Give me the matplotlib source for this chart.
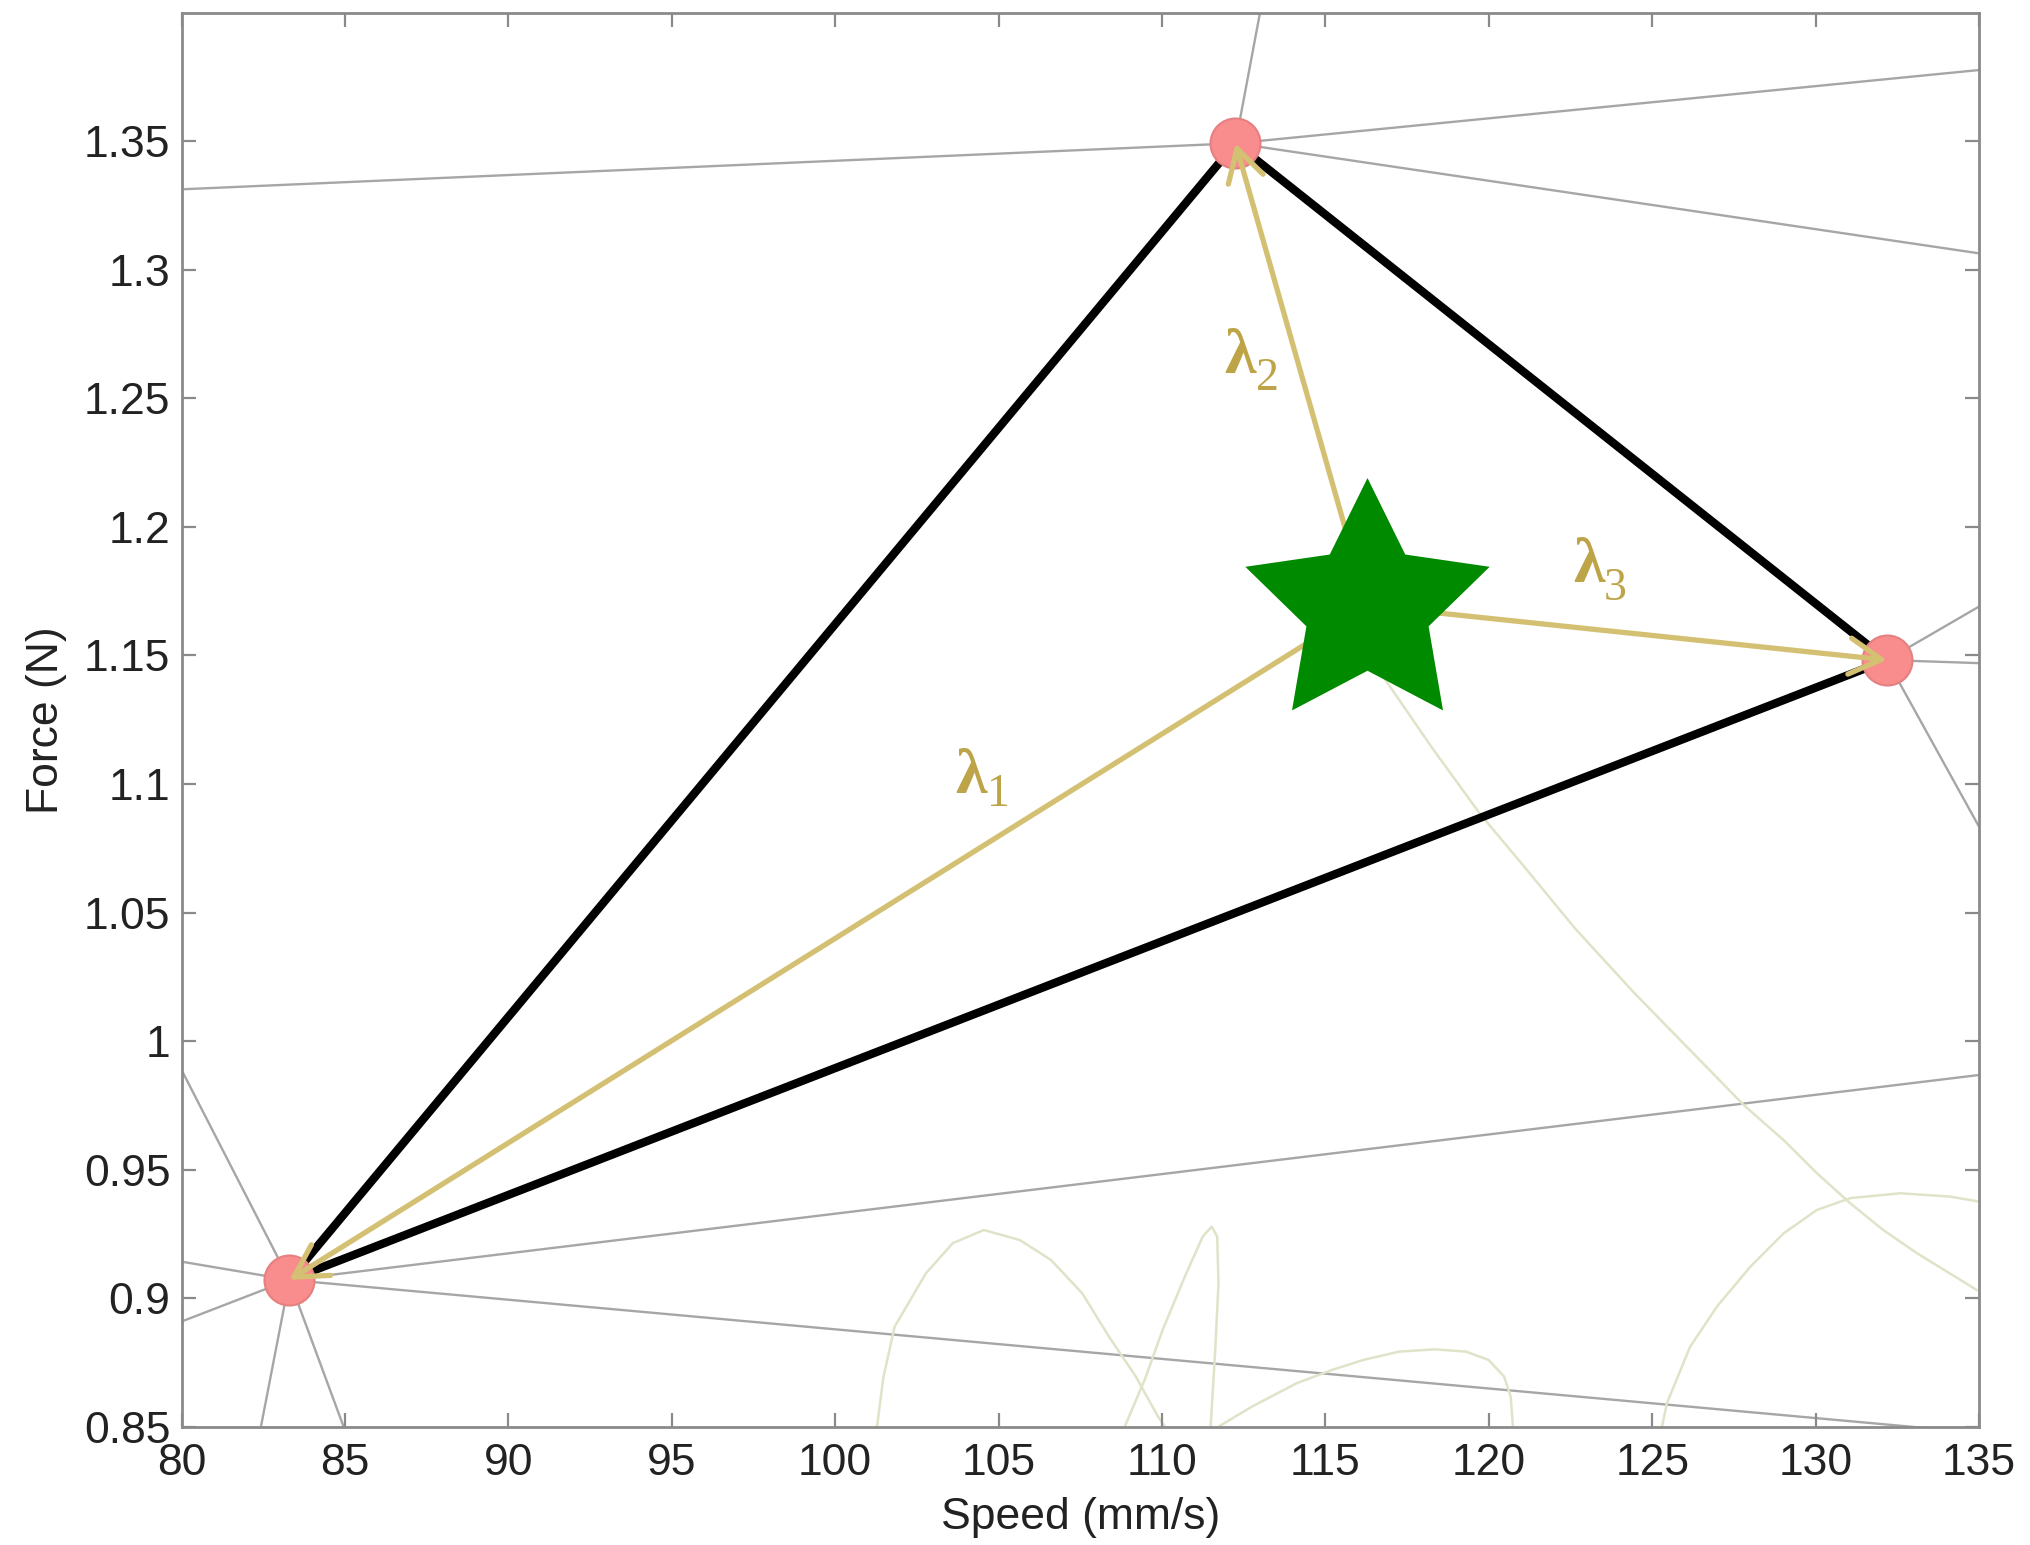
import matplotlib
matplotlib.use("Agg")
import matplotlib.pyplot as plt
from matplotlib.patches import FancyArrowPatch, ArrowStyle
from matplotlib.path import Path

# ---------------- data ----------------
xticks = [80, 85, 90, 95, 100, 105, 110, 115, 120, 125, 130, 135]
xtick_labels = ["80", "85", "90", "95", "100", "105", "110", "115", "120", "125", "130", "135"]
yticks = [0.85, 0.9, 0.95, 1.0, 1.05, 1.1, 1.15, 1.2, 1.25, 1.3, 1.35]
ytick_labels = ["0.85", "0.9", "0.95", "1", "1.05", "1.1", "1.15", "1.2", "1.25", "1.3", "1.35"]

# triangle vertices (Speed, Force)
vertex_x = [83.30, 112.25, 132.18]
vertex_y = [0.9071, 1.3492, 1.1482]

# target point (star)
star_x = [116.28]
star_y = [1.1694]

# thin gray lines (start -> end)
gray_x0 = [83.30, 83.30, 83.30, 83.30, 83.30, 83.30, 83.30,
           112.25, 112.25, 112.25, 112.25,
           132.18, 132.18, 132.18]
gray_y0 = [0.9071, 0.9071, 0.9071, 0.9071, 0.9071, 0.9071, 0.9071,
           1.3492, 1.3492, 1.3492, 1.3492,
           1.1482, 1.1482, 1.1482]
gray_x1 = [80.0, 80.0, 80.0, 82.43, 84.96, 135.0, 135.0,
           80.0, 113.0, 135.0, 135.0,
           135.0, 135.0, 135.0]
gray_y1 = [0.9888, 0.9142, 0.8909, 0.85, 0.85, 0.9868, 0.8476,
           1.3313, 1.40, 1.3777, 1.3064,
           1.1690, 1.1470, 1.0834]

# faint curves
curve1_x = [116.30, 116.83, 118.28, 119.73, 121.19, 122.64, 124.46,
            127.81, 129.02, 130.04, 131.06, 132.07, 133.10, 134.93]
curve1_y = [1.1600, 1.1406, 1.1138, 1.0884, 1.0662, 1.0438, 1.0186,
            0.9750, 0.9615, 0.9486, 0.9369, 0.9265, 0.9175, 0.9032]

curve2_x = [125.30, 125.45, 126.16, 126.98, 128.00, 129.02, 130.04, 131.06, 132.59, 134.11, 135.03]
curve2_y = [0.8500, 0.8591, 0.8811, 0.8967, 0.9122, 0.9252, 0.9343, 0.9389, 0.9408, 0.9395, 0.9375]

curve3_x = [101.28, 101.48, 101.82, 102.78, 103.60, 104.55, 105.65, 106.60, 107.56,
            108.38, 109.20, 109.88, 110.09]
curve3_y = [0.8500, 0.8695, 0.8889, 0.9097, 0.9214, 0.9265, 0.9226, 0.9149, 0.9019,
            0.8850, 0.8695, 0.8539, 0.8500]

curve4_x = [108.86, 109.47, 110.02, 110.70, 111.25, 111.52, 111.69, 111.73, 111.63, 111.49]
curve4_y = [0.8500, 0.8682, 0.8876, 0.9084, 0.9240, 0.9278, 0.9240, 0.9058, 0.8799, 0.8500]

curve5_x = [111.73, 112.75, 114.12, 115.21, 116.17, 117.26, 118.35, 119.30, 119.99,
            120.47, 120.67, 120.74]
curve5_y = [0.8500, 0.8578, 0.8669, 0.8721, 0.8760, 0.8792, 0.8801, 0.8792, 0.8760,
            0.8695, 0.8617, 0.8500]

# lambda labels: symbol position (left, baseline) and subscript position
label_digits = ["1", "2", "3"]
label_sym_x = [103.66, 111.92, 122.58]
label_sym_y = [1.0966, 1.2599, 1.1787]
label_sub_x = [104.65, 112.87, 123.53]
label_sub_y = [1.0916, 1.2533, 1.1716]

# ---------------- figure ----------------
fig = plt.figure(figsize=(20.31, 15.45), dpi=100)
ax = fig.add_axes([0.08937, 0.07657, 0.88503, 0.91521])
ax.set_xlim(80, 135)
ax.set_ylim(0.85, 1.40)

gray = "#a6a6a6"
for x0, y0, x1, y1 in zip(gray_x0, gray_y0, gray_x1, gray_y1):
    ax.plot([x0, x1], [y0, y1], color=gray, lw=1.7, zorder=1, solid_capstyle="butt")

pale = "#e0e3c8"
for cx, cy in [(curve1_x, curve1_y), (curve2_x, curve2_y), (curve3_x, curve3_y),
               (curve4_x, curve4_y), (curve5_x, curve5_y)]:
    ax.plot(cx, cy, color=pale, lw=1.8, zorder=1.5, solid_joinstyle="round")

# black triangle
tri_x = vertex_x + [vertex_x[0]]
tri_y = vertex_y + [vertex_y[0]]
ax.plot(tri_x, tri_y, color="black", lw=6.0, zorder=3, solid_joinstyle="round")

# vertex circles
ax.plot(vertex_x, vertex_y, linestyle="none", marker="o", ms=36,
        mfc="#f98c8c", mec="#e58080", mew=1.5, zorder=4)

# arrows from star to vertices
arrow_color = "#d4c072"
for vx, vy in zip(vertex_x, vertex_y):
    arr = FancyArrowPatch((star_x[0], star_y[0]), (vx, vy),
                          arrowstyle=ArrowStyle("->", head_length=23, head_width=13),
                          mutation_scale=1, lw=3.8, color=arrow_color,
                          shrinkA=0, shrinkB=0, zorder=5)
    ax.add_patch(arr)

# star (fat five-pointed star)
star_path = Path.unit_regular_star(5, innerCircle=0.5)
ax.plot(star_x, star_y, linestyle="none", marker=star_path, ms=185,
        color="#008a00", mew=0, zorder=6)

# lambda labels
label_color = "#bea448"
for d, sx, sy, bx, by in zip(label_digits, label_sym_x, label_sym_y, label_sub_x, label_sub_y):
    ax.text(sx, sy, "λ", family="Liberation Serif", fontweight="bold", fontsize=46,
            color=label_color, ha="left", va="baseline", zorder=7)
    ax.text(bx, by, d, family="Liberation Serif", fontsize=33,
            color=label_color, ha="left", va="baseline", zorder=7)

# axes styling (MATLAB-like box)
spine_color = "#8a8a8a"
for s in ax.spines.values():
    s.set_color(spine_color)
    s.set_linewidth(2.0)

ax.set_xticks(xticks)
ax.set_xticklabels(xtick_labels)
ax.set_yticks(yticks)
ax.set_yticklabels(ytick_labels)
ax.tick_params(axis="both", which="major", direction="in", length=10, width=1.6,
               color=spine_color, top=True, right=True, labelsize=32,
               labelcolor="#222222")
ax.tick_params(axis="x", pad=12)
ax.tick_params(axis="y", pad=8)
for lab in ax.get_xticklabels() + ax.get_yticklabels():
    lab.set_family("Liberation Sans")

ax.set_xlabel("Speed (mm/s)", family="Liberation Sans", fontsize=32, color="#222222", labelpad=9)
ax.set_ylabel("Force (N)", family="Liberation Sans", fontsize=32, color="#222222", labelpad=12)

fig.savefig("out.png", dpi=100, facecolor="white")
